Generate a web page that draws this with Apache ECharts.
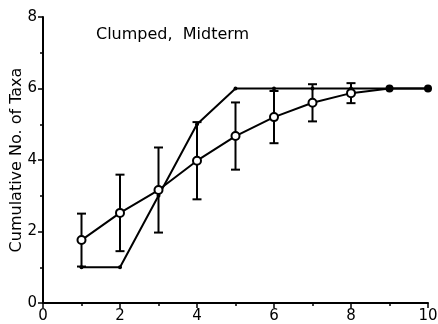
<!DOCTYPE html>
<html>
<head>
<meta charset="utf-8">
<script src="https://cdn.jsdelivr.net/npm/echarts@6/dist/echarts.min.js"></script>
<style>
  html, body { margin: 0; padding: 0; background: #fff; }
  #chart { width: 438px; height: 324px; }
</style>
</head>
<body>
<div id="chart"></div>
<script>
// Sampling effort (x) against cumulative number of taxa
const samples = [1, 2, 3, 4, 5, 6, 7, 8, 9, 10];
const meanTaxa = [1.76, 2.52, 3.16, 3.98, 4.67, 5.20, 5.60, 5.87, 6, 6];
const sdTaxa = [0.74, 1.07, 1.19, 1.08, 0.94, 0.73, 0.52, 0.28, 0, 0];
const observedTaxa = [1, 1, 3, 5, 6, 6, 6, 6, 6, 6];
const xTicks = [0, 2, 4, 6, 8, 10];
const yTicks = [0, 2, 4, 6, 8];

const font = '"DejaVu Sans", "Liberation Sans", Arial, sans-serif';
const chart = echarts.init(document.getElementById('chart'), null, { renderer: 'canvas' });

// points with no spread are drawn as solid dots
const meanData = samples.map((x, i) => {
  const d = { value: [x, meanTaxa[i]] };
  if (sdTaxa[i] === 0) d.symbol = 'circle';
  return d;
});
const errData = samples.map((x, i) => [x, meanTaxa[i] - sdTaxa[i], meanTaxa[i] + sdTaxa[i]])
  .filter((d, i) => sdTaxa[i] > 0);

const axisCommon = {
  axisLine: { show: true, lineStyle: { color: '#000', width: 2 } },
  axisTick: { show: true, inside: false, length: 5, lineStyle: { color: '#000', width: 1.5 } },
  minorTick: { show: true, splitNumber: 2, length: 3, lineStyle: { color: '#000', width: 1.5 } },
  splitLine: { show: false },
  axisLabel: { color: '#000', fontSize: 15, fontFamily: font, margin: 6 }
};

chart.setOption({
  animation: false,
  backgroundColor: '#fff',
  title: {
    text: 'Clumped,  Midterm',
    left: 91, top: 22,
    textStyle: { color: '#000', fontSize: 16, fontWeight: 'normal', fontFamily: font }
  },
  grid: { left: 43, right: 10, top: 17, bottom: 21, containLabel: false, outerBoundsMode: 'none' },
  xAxis: Object.assign({}, axisCommon, {
    type: 'value', min: xTicks[0], max: xTicks[xTicks.length - 1], interval: 2
  }),
  yAxis: Object.assign({}, axisCommon, {
    type: 'value', min: yTicks[0], max: yTicks[yTicks.length - 1], interval: 2,
    name: 'Cumulative No. of Taxa',
    nameLocation: 'middle', nameGap: 18, nameMoveOverlap: false,
    nameTextStyle: { color: '#000', fontSize: 16, fontFamily: font }
  }),
  series: [
    {
      type: 'custom',
      data: errData,
      z: 3,
      renderItem: function (params, api) {
        const x = api.value(0);
        const lo = api.coord([x, api.value(1)]);
        const hi = api.coord([x, api.value(2)]);
        const cap = 4.5;
        const style = { stroke: '#000', lineWidth: 2 };
        return {
          type: 'group',
          children: [
            { type: 'line', shape: { x1: lo[0], y1: lo[1], x2: hi[0], y2: hi[1] }, style: style },
            { type: 'line', shape: { x1: lo[0] - cap, y1: lo[1], x2: lo[0] + cap, y2: lo[1] }, style: style },
            { type: 'line', shape: { x1: hi[0] - cap, y1: hi[1], x2: hi[0] + cap, y2: hi[1] }, style: style }
          ]
        };
      }
    },
    {
      type: 'line',
      data: samples.map((x, i) => [x, observedTaxa[i]]),
      symbol: 'circle',
      symbolSize: 4,
      itemStyle: { color: '#000' },
      lineStyle: { color: '#000', width: 2 },
      z: 4
    },
    {
      type: 'line',
      data: meanData,
      symbol: 'emptyCircle',
      symbolSize: 8,
      showAllSymbol: true,
      itemStyle: { color: '#000', borderWidth: 1.8 },
      lineStyle: { color: '#000', width: 2 },
      z: 5
    }
  ]
});
</script>
</body>
</html>
